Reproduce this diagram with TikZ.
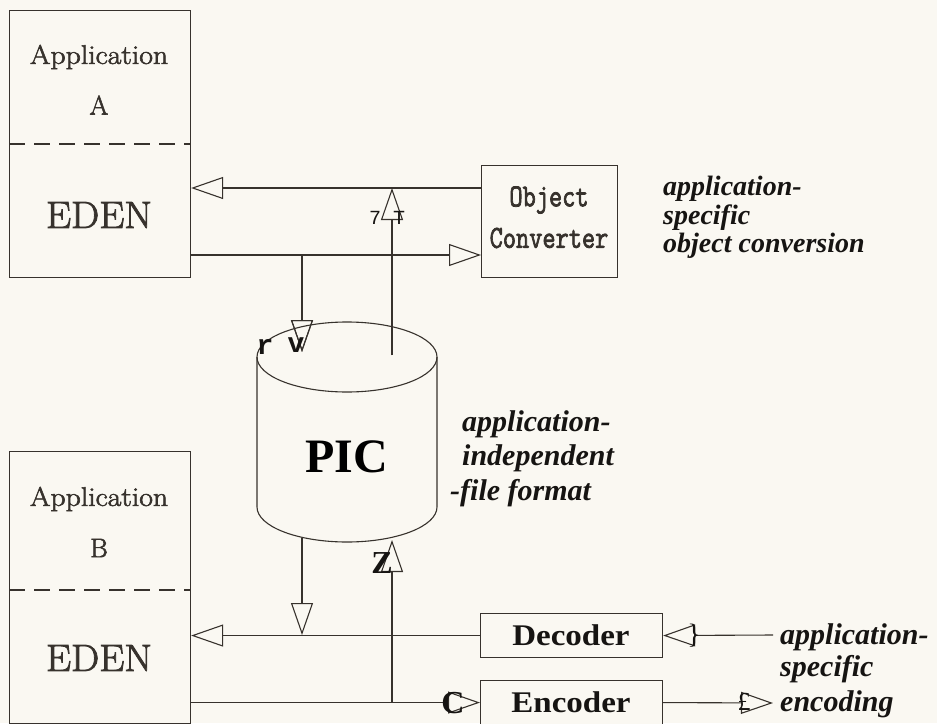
\documentclass[tikz,border=0pt]{standalone}
\usepackage{fontspec}
\usepackage{graphicx}
\usetikzlibrary{arrows.meta}
\newfontfamily\tmsf{Liberation Serif}
\newfontfamily\crf{Liberation Mono}
\newfontfamily\lmmono{Latin Modern Mono}[FakeBold=2.5]
\newfontfamily\lmrm{Latin Modern Roman}[FakeBold=2]
\definecolor{bgc}{RGB}{250,248,242}
\definecolor{ink}{RGB}{55,50,45}
\definecolor{txt}{RGB}{22,20,18}
\tikzset{
  x=1pt, y=1pt,
  line/.style={draw=ink, line width=1.1pt},
  arr/.style={line, -{Triangle[open, length=32pt, width=22pt, line width=1.1pt]}},
  box/.style={draw=ink, line width=1.1pt, fill=bgc, inner sep=0pt, anchor=north west},
  lbl/.style={inner sep=0pt, text=ink},
  boxtxt/.style={lbl, font=\lmrm\fontsize{27}{27}\selectfont},
  edentxt/.style={lbl, font=\lmrm\fontsize{38}{38}\selectfont},
  convtxt/.style={lbl, font=\lmmono\fontsize{32}{32}\selectfont},
  codtxt/.style={inner sep=0pt, text=txt, font=\tmsf\bfseries\fontsize{30}{30}\selectfont},
  note/.style={inner sep=0pt, anchor=base west, text=txt, font=\tmsf\bfseries\itshape\fontsize{28}{30}\selectfont},
  bignote/.style={note, font=\tmsf\bfseries\itshape\fontsize{30}{32}\selectfont},
  artt/.style={inner sep=0pt, text=txt, font=\crf\fontsize{20}{20}\selectfont},
  artb/.style={inner sep=0pt, text=txt, font=\crf\bfseries\fontsize{28}{28}\selectfont},
  arts/.style={inner sep=0pt, text=txt, font=\tmsf\bfseries\fontsize{32}{32}\selectfont},
  dsh/.style={line, dash pattern=on 16pt off 9pt},
}
\begin{document}
\begin{tikzpicture}
\fill[bgc] (0,0) rectangle (937,-723);
\useasboundingbox (0,0) rectangle (937,-723);

% Application A
\node[box, minimum width=181pt, minimum height=267pt] (boxA) at (9,-10) {};
\node[boxtxt] (appA) at (99,-57) {\scalebox{1.1}[1]{Application}};
\node[boxtxt] (lA) at (99,-105) {A};
\draw[dsh] (boxA.west |- 0,-144) -- (boxA.east |- 0,-144);
\node[edentxt] (edenA) at (99,-215) {\scalebox{1.05}[1]{EDEN}};

% Object converter
\node[box, minimum width=136pt, minimum height=112pt] (oc) at (481,-165) {};
\node[convtxt] (ocl1) at (549,-200) {\scalebox{0.8}[1]{Object}};
\node[convtxt] (ocl2) at (549,-238) {\scalebox{0.8}[1]{Converter}};

\node[note] (n1a) at (663,-195) {application-};
\node[note] (n1b) at (663,-224) {specific};
\node[note] (n1c) at (663,-252) {object conversion};

% connectors top
\coordinate (jDown) at (302,-255);
\coordinate (cylIn1) at (302,-352);
\coordinate (cylOut1) at (392,-355);
\coordinate (jUp) at (392,-188);
\draw[arr] (oc.west |- 0,-188) -- (boxA.east |- 0,-188);
\draw[arr] (boxA.east |- 0,-255) -- (oc.west |- 0,-255);
\draw[arr] (jDown) -- (cylIn1);
\draw[arr] (cylOut1) -- (jUp);

% cylinder
\coordinate (cyl) at (347,-432);
\draw[line, fill=bgc] (257,-357) -- (257,-507) arc[start angle=180, end angle=360, x radius=90, y radius=35] -- (437,-357);
\draw[line] (347,-357) ellipse [x radius=90, y radius=35];
\draw[line] (cylOut1) -- (392,-330);
\draw[arr] (302,-300) -- (cylIn1);
\node[inner sep=0pt, text=black, font=\tmsf\bfseries\fontsize{48}{48}\selectfont] (pic) at (347,-457) {PIC};

\node[bignote] (n2a) at (462,-431) {application-};
\node[bignote] (n2b) at (462,-465) {independent};
\node[bignote] (n2c) at (450,-500) {-file format};

% Application B
\node[box, minimum width=181pt, minimum height=272pt] (boxB) at (9,-451) {};
\node[boxtxt] (appB) at (99,-499) {\scalebox{1.1}[1]{Application}};
\node[boxtxt] (lB) at (99,-548) {B};
\draw[dsh] (boxB.west |- 0,-590) -- (boxB.east |- 0,-590);
\node[edentxt] (edenB) at (99,-658) {\scalebox{1.05}[1]{EDEN}};

% decoder / encoder
\node[box, minimum width=182pt, minimum height=44pt] (dec) at (480,-613) {};
\node[codtxt] (decl) at (571,-635) {\scalebox{1.1}[1]{Decoder}};
\node[box, minimum width=182pt, minimum height=44pt] (enc) at (480,-680) {};
\node[codtxt] (encl) at (571,-702) {\scalebox{1.1}[1]{Encoder}};

\coordinate (cylBot1) at (302,-538);
\coordinate (jB1) at (302,-635);
\coordinate (jB2) at (392,-702);
\coordinate (cylBot2) at (392,-540);
\coordinate (decIn) at (773,-635);
\coordinate (encOut) at (773,-703);
\draw[arr] (dec.west) -- (boxB.east |- dec.west);
\draw[arr] (boxB.east |- enc.west) -- (enc.west);
\draw[arr] (cylBot1) -- (jB1);
\draw[arr] (jB2) -- (cylBot2);
\draw[arr] (decIn) -- (dec.east);
\draw[arr] (enc.east) -- (encOut);

\node[note, font=\tmsf\bfseries\itshape\fontsize{30}{32}\selectfont] (n3a) at (780,-644) {application-};
\node[note, font=\tmsf\bfseries\itshape\fontsize{30}{32}\selectfont] (n3b) at (780,-676) {specific};
\node[note, font=\tmsf\bfseries\itshape\fontsize{30}{32}\selectfont] (n3c) at (780,-711) {encoding};

% scanned stray characters
\node[artt] (a7) at (375,-218) {7};
\node[artt] (aT) at (399,-218) {T};
\node[artb] (ar) at (265,-347) {r};
\node[artb] (av) at (296,-345) {v};
\node[arts] (az) at (382,-563) {Z};
\node[arts] (ac) at (453,-703) {C};
\node[inner sep=0pt, text=txt, font=\tmsf\fontsize{28}{28}\selectfont] (abr) at (694,-636) {\}};
\node[inner sep=0pt, text=txt, font=\tmsf\fontsize{26}{26}\selectfont] (alb) at (744,-702) {£};
\end{tikzpicture}
\end{document}
